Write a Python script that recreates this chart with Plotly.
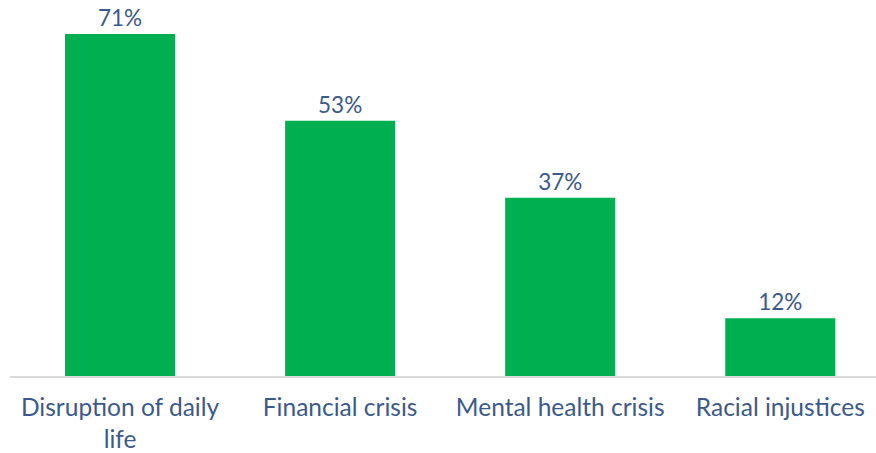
import plotly.graph_objects as go

categories = ["Disruption of daily<br>life", "Financial crisis", "Mental health crisis", "Racial injustices"]
values = [71, 53, 37, 12]
labels = ["71%", "53%", "37%", "12%"]

text_color = "#3B5A8C"
font_family = "Lato, 'Open Sans', sans-serif"

fig = go.Figure(go.Bar(
    x=categories,
    y=values,
    text=labels,
    textposition="outside",
    textfont=dict(size=22.5, color=text_color, family=font_family),
    marker=dict(color="#00B050", line=dict(width=0)),
    cliponaxis=False,
))

fig.update_layout(
    width=876, height=453,
    margin=dict(l=9.5, r=0, t=0, b=77),
    plot_bgcolor="white", paper_bgcolor="white",
    bargap=0.5,
    showlegend=False,
    font=dict(family=font_family, size=24.5, color=text_color),
    xaxis=dict(
        range=[-0.5, 3.435],
        showline=True, linecolor="#D9D9D9", linewidth=1.5,
        showgrid=False, ticks="", tickfont=dict(size=24.5, color=text_color, family=font_family),
        ticklabelstandoff=9,
        fixedrange=True,
    ),
    yaxis=dict(range=[0, 78.06], visible=False, showgrid=False, fixedrange=True),
)

fig.write_html("out.html")
